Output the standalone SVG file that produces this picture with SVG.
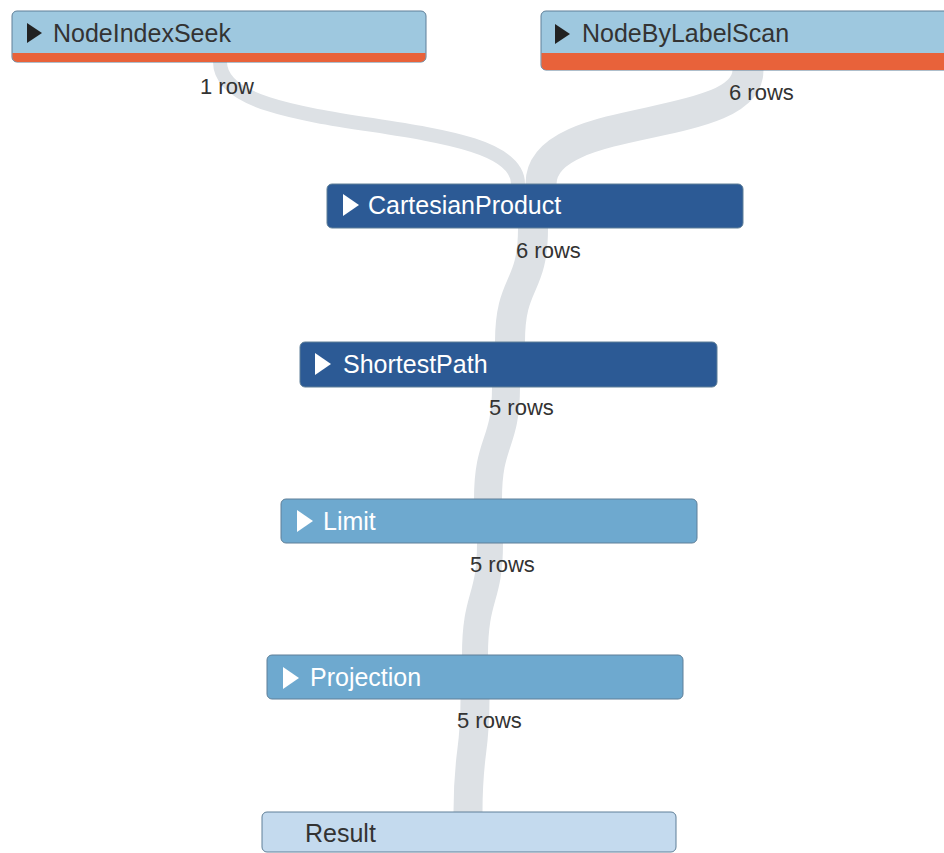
<svg xmlns="http://www.w3.org/2000/svg" width="944" height="853" viewBox="0 0 944 853">
<style>
.edge{fill:none;stroke:#dde1e5;stroke-linecap:butt}
.box{stroke:#5f7f98;stroke-width:1}
.leaf{fill:#9ec8df}
.hot{fill:#e8623a}
.dark{fill:#2c5a95}
.mid{fill:#6ea9cf}
.res{fill:#c4daee}
.t{font-family:"Liberation Sans",Arial,sans-serif;font-size:25px}
.td{fill:#333}
.tw{fill:#fff}
.rows{font-family:"Liberation Sans",Arial,sans-serif;font-size:22px;fill:#333}
</style>
<rect width="944" height="853" fill="#fff"/>
<g id="connectors">
<path class="edge" stroke-width="14" d="M220,62 C220,140 518,110 518,184"/>
<path class="edge" stroke-width="31" d="M748,70 C748,135 541,110 541,184"/>
<path class="edge" stroke-width="30" d="M533,228 C533,290 510,280 510,342"/>
<path class="edge" stroke-width="28" d="M506,387 C506,445 488,440 488,499"/>
<path class="edge" stroke-width="26" d="M490,543 C490,600 475,595 475,655"/>
<path class="edge" stroke-width="29" d="M475,699 C475,755 468,750 468,812"/>
<text class="rows" x="200" y="94">1 row</text>
<text class="rows" x="729" y="100">6 rows</text>
<text class="rows" x="516" y="258">6 rows</text>
<text class="rows" x="489" y="415">5 rows</text>
<text class="rows" x="470" y="572">5 rows</text>
<text class="rows" x="457" y="728">5 rows</text>
</g>
<g id="NodeIndexSeek">
<rect class="box leaf" x="12" y="11" width="414" height="51" rx="5"/>
<path class="hot" d="M12.5,53 H425.5 V57 a5,5 0 0 1 -5,5 H17.5 a5,5 0 0 1 -5,-5 Z"/>
<polygon points="27,23 42,33 27,43" fill="#222"/>
<text class="t td" x="53" y="42">NodeIndexSeek</text>
</g>
<g id="NodeByLabelScan">
<rect class="box leaf" x="541" y="11" width="420" height="59" rx="5"/>
<path class="hot" d="M541.5,53 H960 V65 a5,5 0 0 1 -5,5 H546.5 a5,5 0 0 1 -5,-5 Z"/>
<polygon points="555,24 570,34 555,44" fill="#222"/>
<text class="t td" x="582" y="42">NodeByLabelScan</text>
</g>
<g id="CartesianProduct">
<rect class="box dark" x="327" y="184" width="416" height="44" rx="5"/>
<polygon points="343,194 359,205 343,216" fill="#fff"/>
<text class="t tw" x="368" y="214">CartesianProduct</text>
</g>
<g id="ShortestPath">
<rect class="box dark" x="300" y="342" width="417" height="45" rx="5"/>
<polygon points="315,353 331,364 315,375" fill="#fff"/>
<text class="t tw" x="343" y="373">ShortestPath</text>
</g>
<g id="Limit">
<rect class="box mid" x="281" y="499" width="416" height="44" rx="5"/>
<polygon points="297,510 313,521 297,532" fill="#fff"/>
<text class="t tw" x="323" y="530">Limit</text>
</g>
<g id="Projection">
<rect class="box mid" x="267" y="655" width="416" height="44" rx="5"/>
<polygon points="283,667 299,678 283,689" fill="#fff"/>
<text class="t tw" x="310" y="686">Projection</text>
</g>
<g id="Result">
<rect class="box res" x="262" y="812" width="414" height="40" rx="5"/>
<text class="t td" x="305" y="842">Result</text>
</g>
</svg>
